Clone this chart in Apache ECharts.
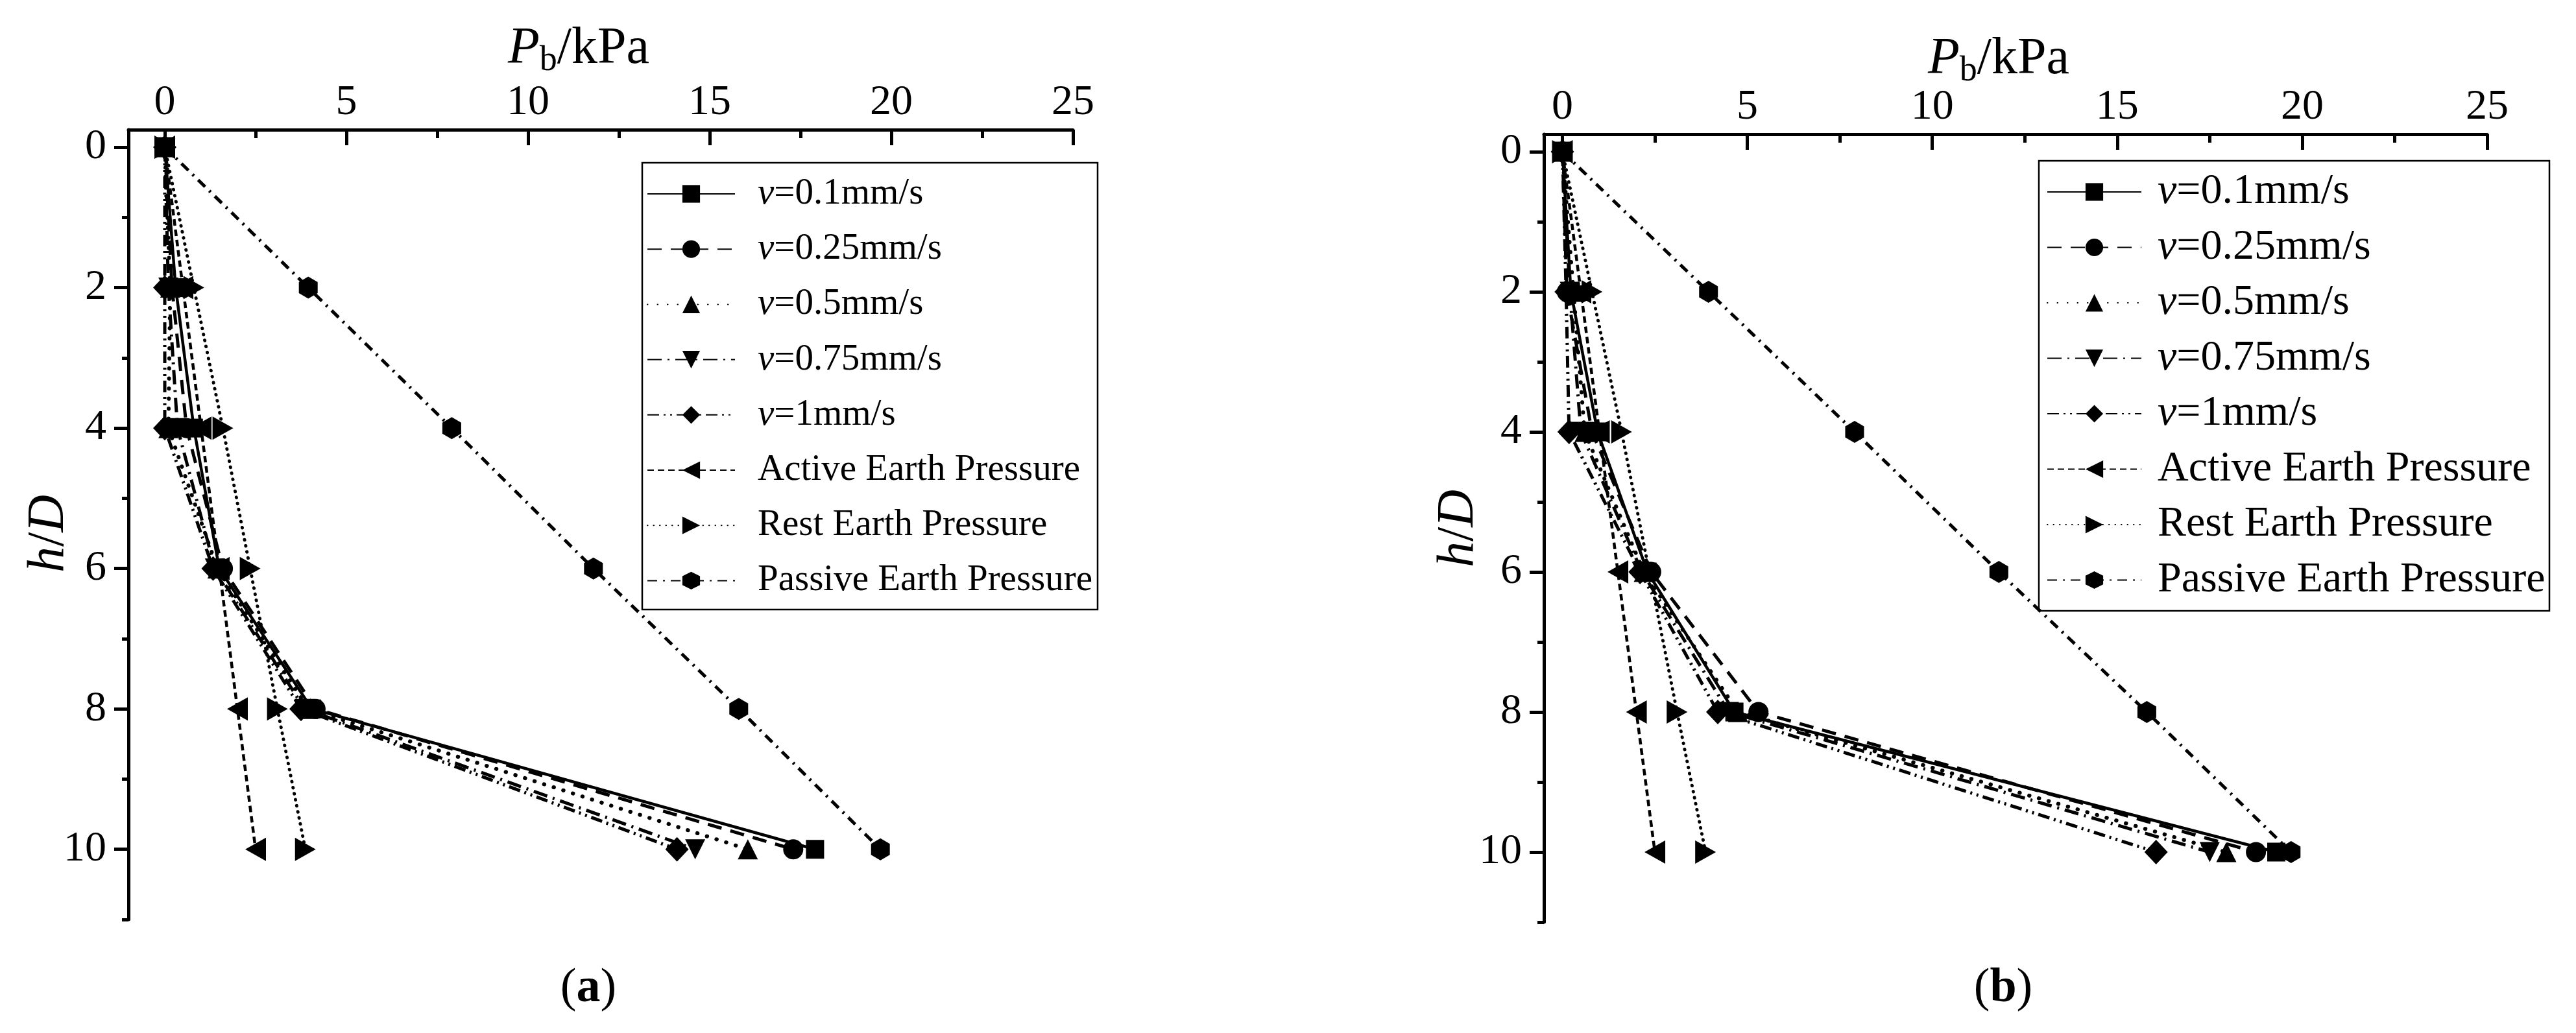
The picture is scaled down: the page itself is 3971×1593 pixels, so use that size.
<!DOCTYPE html>
<html>
<head>
<meta charset="utf-8">
<script src="https://cdn.jsdelivr.net/npm/echarts@6/dist/echarts.min.js"></script>
<style>
html,body{margin:0;padding:0;background:#ffffff;}
#chart{width:3971px;height:1593px;}
</style>
</head>
<body>
<div id="chart"></div>
<script>
// ---------------- data ----------------
const depth = [0, 2, 4, 6, 8, 10];               // h/D
const seriesNames = ['v=0.1mm/s', 'v=0.25mm/s', 'v=0.5mm/s', 'v=0.75mm/s', 'v=1mm/s',
  'Active Earth Pressure', 'Rest Earth Pressure', 'Passive Earth Pressure'];

// panel (a)  P_b in kPa
const a_v01   = [0, 0.30, 0.80, 1.50, 4.05, 17.90];
const a_v025  = [0, 0.20, 0.60, 1.60, 4.15, 17.30];
const a_v05   = [0, 0.15, 0.10, 1.45, 3.95, 16.05];
const a_v075  = [0, 0.10, 0.35, 1.38, 3.85, 14.60];
const a_v1    = [0, 0.00, 0.00, 1.33, 3.75, 14.10];
// panel (b)
const b_v01   = [0, 0.23, 0.95, 2.30, 4.65, 19.30];
const b_v025  = [0, 0.12, 0.80, 2.40, 5.30, 18.75];
const b_v05   = [0, 0.30, 0.60, 2.20, 4.75, 17.95];
const b_v075  = [0, 0.20, 0.50, 2.15, 4.50, 17.50];
const b_v1    = [0, 0.10, 0.18, 2.10, 4.20, 16.05];
// theoretical earth pressures (same in both panels)
const activeP  = [0, 0.50, 1.00, 1.50, 2.00, 2.50];
const restP    = [0, 0.80, 1.60, 2.35, 3.10, 3.87];
const passiveP = [0, 3.95, 7.90, 11.80, 15.80, 19.70];

// axis ticks
const xTicks = [0, 5, 10, 15, 20, 25];
const xMinor = [2.5, 7.5, 12.5, 17.5, 22.5];
const yTicks = [0, 2, 4, 6, 8, 10];
const yMinor = [1, 3, 5, 7, 9, 11];

// ---------------- styles ----------------
const F = 'Liberation Serif';
const K = '#000000';
const HEX = 'path://M5,0 L10,2.5 L10,7.5 L5,10 L0,7.5 L0,2.5 Z';
const TRI_DOWN = 'path://M0,0 L10,0 L5,10 Z';
const TRI_LEFT = 'path://M10,0 L10,10 L0,5 Z';
const TRI_RIGHT = 'path://M0,0 L10,5 L0,10 Z';

const styles = [
  {symbol: 'rect',     size: [28, 29], line: {type: 'solid', width: 4.5}},
  {symbol: 'circle',   size: 31,       line: {type: [22, 14], width: 5, cap: 'butt'}},
  {symbol: 'triangle', size: [31, 31], line: {type: [0.5, 15], width: 6, cap: 'round'}},
  {symbol: TRI_DOWN,   size: [31, 31], line: {type: [22, 9, 3, 9], width: 5, cap: 'butt'}},
  {symbol: 'diamond',  size: [36, 38], line: {type: [18, 7, 3, 7, 3, 7], width: 5, cap: 'butt'}},
  {symbol: TRI_LEFT,   size: [32, 36], line: {type: [10, 6], width: 4.5, cap: 'butt'}},
  {symbol: TRI_RIGHT,  size: [32, 36], line: {type: [0.5, 9], width: 5, cap: 'round'}},
  {symbol: HEX,        size: [29, 34], line: {type: [15, 9, 3, 9], width: 5, cap: 'butt'}}
];

const panelA = [a_v01, a_v025, a_v05, a_v075, a_v1, activeP, restP, passiveP];
const panelB = [b_v01, b_v025, b_v05, b_v075, b_v1, activeP, restP, passiveP];

function makeSeries(values, axisIdx) {
  return values.map((vals, i) => ({
    type: 'line',
    name: seriesNames[i],
    xAxisIndex: axisIdx,
    yAxisIndex: axisIdx,
    data: vals.map((v, j) => [v, depth[j]]),
    symbol: styles[i].symbol,
    symbolSize: styles[i].size,
    itemStyle: {color: K},
    lineStyle: Object.assign({color: K}, styles[i].line),
    z: 2 + i,
    animation: false,
    silent: true
  }));
}

function xAxes(grid, min) {
  return [
    {
      type: 'value', gridIndex: grid, position: 'top', min: min, max: 25,
      axisLine: {show: true, onZero: false, lineStyle: {color: K, width: 5}},
      axisTick: {show: true, inside: true, length: 24, customValues: xTicks, lineStyle: {color: K, width: 5}},
      axisLabel: {show: true, customValues: xTicks, margin: 8, color: K, fontFamily: F, fontSize: 66},
      splitLine: {show: false}
    },
    {
      type: 'value', gridIndex: grid, position: 'top', min: min, max: 25,
      axisLine: {show: false, onZero: false},
      axisTick: {show: true, inside: true, length: 13, customValues: xMinor, lineStyle: {color: K, width: 5}},
      axisLabel: {show: false},
      splitLine: {show: false}
    }
  ];
}
function yAxes(grid) {
  return [
    {
      type: 'value', gridIndex: grid, position: 'left', inverse: true, min: -0.25, max: 11,
      axisLine: {show: true, onZero: false, lineStyle: {color: K, width: 5}},
      axisTick: {show: true, inside: false, length: 22, customValues: yTicks, lineStyle: {color: K, width: 5}},
      axisLabel: {show: true, customValues: yTicks, margin: 34, color: K, fontFamily: F, fontSize: 66},
      splitLine: {show: false}
    },
    {
      type: 'value', gridIndex: grid, position: 'left', inverse: true, min: -0.25, max: 11,
      axisLine: {show: false, onZero: false},
      axisTick: {show: true, inside: false, length: 10, customValues: yMinor, lineStyle: {color: K, width: 5}},
      axisLabel: {show: false},
      splitLine: {show: false}
    }
  ];
}

function legendFor(left, top, fontSize, itemWidth, textPad, gap) {
  return {
    show: true, orient: 'vertical', left: left, top: top, padding: 0,
    data: seriesNames, selectedMode: false,
    itemWidth: itemWidth, itemHeight: 34, itemGap: gap,
    formatter: name => name.indexOf('v=') === 0 ? '{i|v}' + name.slice(1) : name,
    textStyle: {
      color: K, fontFamily: F, fontSize: fontSize, lineHeight: 70, padding: [0, 0, 0, textPad],
      rich: {i: {fontStyle: 'italic', fontFamily: F, fontSize: fontSize, color: K, lineHeight: 70}}
    }
  };
}

function titleText(cx, cy) {
  return {
    type: 'text', x: cx, y: cy, silent: true,
    style: {
      text: '{p|P}{s|b}{n|/kPa}', align: 'center', verticalAlign: 'middle',
      textAlign: 'center', textVerticalAlign: 'middle', fill: K,
      rich: {
        p: {fontFamily: F, fontStyle: 'italic', fontSize: 80, lineHeight: 90, fill: K},
        s: {fontFamily: F, fontSize: 54, lineHeight: 30, verticalAlign: 'bottom', fill: K},
        n: {fontFamily: F, fontSize: 80, lineHeight: 90, fill: K}
      }
    }
  };
}
function yTitle(cx, cy) {
  return {
    type: 'text', x: cx, y: cy, rotation: Math.PI / 2, silent: true,
    style: {
      text: '{i|h}{n|/}{i|D}', align: 'center', verticalAlign: 'middle',
      textAlign: 'center', textVerticalAlign: 'middle', fill: K,
      rich: {
        i: {fontFamily: F, fontStyle: 'italic', fontSize: 80, fill: K},
        n: {fontFamily: F, fontSize: 80, fill: K}
      }
    }
  };
}
function caption(cx, cy, letter) {
  return {
    type: 'text', x: cx, y: cy, silent: true,
    style: {
      text: '{n|(}{b|' + letter + '}{n|)}', align: 'center', verticalAlign: 'middle',
      textAlign: 'center', textVerticalAlign: 'middle', fill: K,
      rich: {
        n: {fontFamily: F, fontSize: 74, fill: K},
        b: {fontFamily: F, fontSize: 74, fontWeight: 'bold', fill: K}
      }
    }
  };
}
function frame(x, y, w, h) {
  return {type: 'rect', silent: true, shape: {x: x, y: y, width: w, height: h},
    style: {fill: 'none', stroke: K, lineWidth: 2.5}};
}

const option = {
  backgroundColor: '#ffffff',
  animation: false,
  grid: [
    {left: 198, top: 200, width: 1456, height: 1218},
    {left: 2380, top: 207, width: 1454, height: 1215}
  ],
  xAxis: [].concat(xAxes(0, -1), xAxes(1, -0.5)),
  yAxis: [].concat(yAxes(0), yAxes(1)),
  legend: [
    legendFor(997, 264, 57, 135, 30, 15.2),
    legendFor(3155, 261, 66, 145, 20, 15.5)
  ],
  series: [].concat(makeSeries(panelA, 0), makeSeries(panelB, 2)),
  graphic: [
    titleText(892, 76),
    titleText(3081, 92),
    yTitle(76, 823),
    yTitle(2249, 815),
    caption(907, 1525, 'a'),
    caption(3088, 1525, 'b'),
    frame(990, 251, 702, 689),
    frame(3143, 248, 787, 694)
  ]
};

const chart = echarts.init(document.getElementById('chart'), null, {renderer: 'canvas'});
chart.setOption(option);
</script>
</body>
</html>
